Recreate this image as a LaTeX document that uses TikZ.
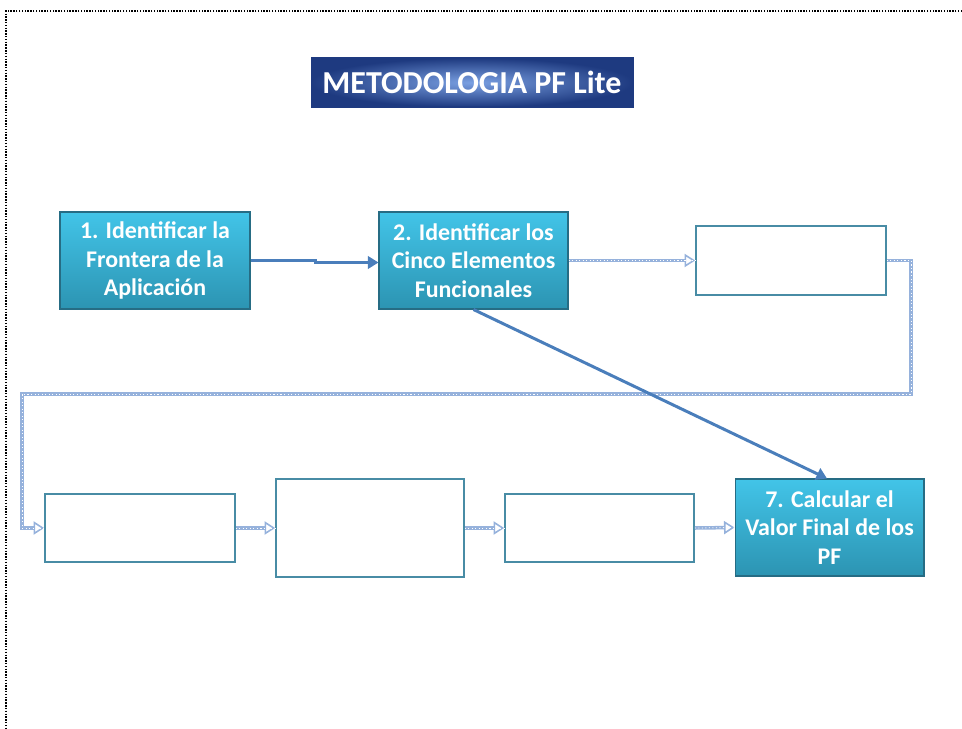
\documentclass[tikz,border=0pt]{standalone}
\usepackage{fontspec}
\setmainfont{Carlito}
\usetikzlibrary{arrows.meta,calc}

\definecolor{tealtop}{RGB}{66,196,232}
\definecolor{tealbot}{RGB}{44,148,178}
\definecolor{tealedge}{RGB}{38,108,132}
\definecolor{boxedge}{RGB}{72,140,165}
\definecolor{flowblue}{RGB}{150,178,220}
\definecolor{mainblue}{RGB}{74,126,187}
\definecolor{navyout}{RGB}{30,58,128}
\definecolor{navyin}{RGB}{122,160,226}

\begin{document}
\begin{tikzpicture}[x=0.02cm,y=-0.02cm,
  stepbox/.style={rectangle, draw=tealedge, line width=0.6pt,
    top color=tealtop, bottom color=tealbot, text=white,
    font=\bfseries\fontsize{13.6}{16.3}\selectfont, align=center,
    inner sep=0pt, minimum width=3.8cm, minimum height=1.94cm},
  emptybox/.style={rectangle, draw=boxedge, line width=1pt, fill=white,
    inner sep=0pt, minimum width=3.8cm},
  titlebox/.style={rectangle, draw=navyout, line width=0.6pt,
    inner color=navyin, outer color=navyout, text=white,
    font=\bfseries\fontsize{18.2}{21}\selectfont, inner sep=0pt,
    minimum width=6.44cm, minimum height=0.98cm},
  flow/.style={draw=flowblue, line width=2pt,
    -{Triangle[open,length=6pt,width=7.5pt,line width=0.9pt]},
    postaction={draw=white, line width=0.45pt, dash pattern=on 0.6pt off 1.4pt, -}},
  mainlink/.style={draw=mainblue, line width=1.7pt,
    -{Triangle[length=6pt,width=7pt]}}
]
\useasboundingbox (0,0) rectangle (962,729);

% page frame
\draw[black, line width=1.2pt, dash pattern=on 0.8pt off 0.8pt]
  (962,11) -- (6,11) -- (6,729);

% title
\node[titlebox] (title) at (472,82.5) {METODOLOGIA PF Lite};

% first row
\node[stepbox] (b1) at (155,260.5) {1. Identificar la\\Frontera de la\\Aplicación};
\node[stepbox, minimum width=3.78cm] (b2) at (473.5,260.5) {2. Identificar los\\Cinco Elementos\\Funcionales};
\node[emptybox, minimum height=1.38cm] (b3) at (791,260.5) {};

% second row
\node[emptybox, minimum height=1.36cm] (b4) at (140,528) {};
\node[emptybox, minimum width=3.76cm, minimum height=1.96cm] (b5) at (370,528) {};
\node[emptybox, minimum width=3.78cm, minimum height=1.36cm] (b6) at (599.5,528) {};
\node[stepbox, minimum width=3.78cm] (b7) at (829.5,527.5) {7. Calcular el\\Valor Final de los\\PF};

% connectors
\draw[mainlink] (b1.east) -- ([xshift=1.3cm]b1.east) |- ([yshift=-0.04cm]b2.west);
\draw[flow] (b2.east) -- (b3.west);
\coordinate (r1) at (911,394);
\coordinate (l1) at (22,394);
\draw[flow] (b3.east) -| (r1) -- (l1) |- (b4.west);
\draw[flow] (b4.east) -- (b5.west);
\draw[flow] (b5.east) -- (b6.west);
\draw[flow] (b6.east) -- (b7.west);
\draw[mainlink] (b2.south) -- ([xshift=-0.05cm]b7.north);
\end{tikzpicture}
\end{document}
